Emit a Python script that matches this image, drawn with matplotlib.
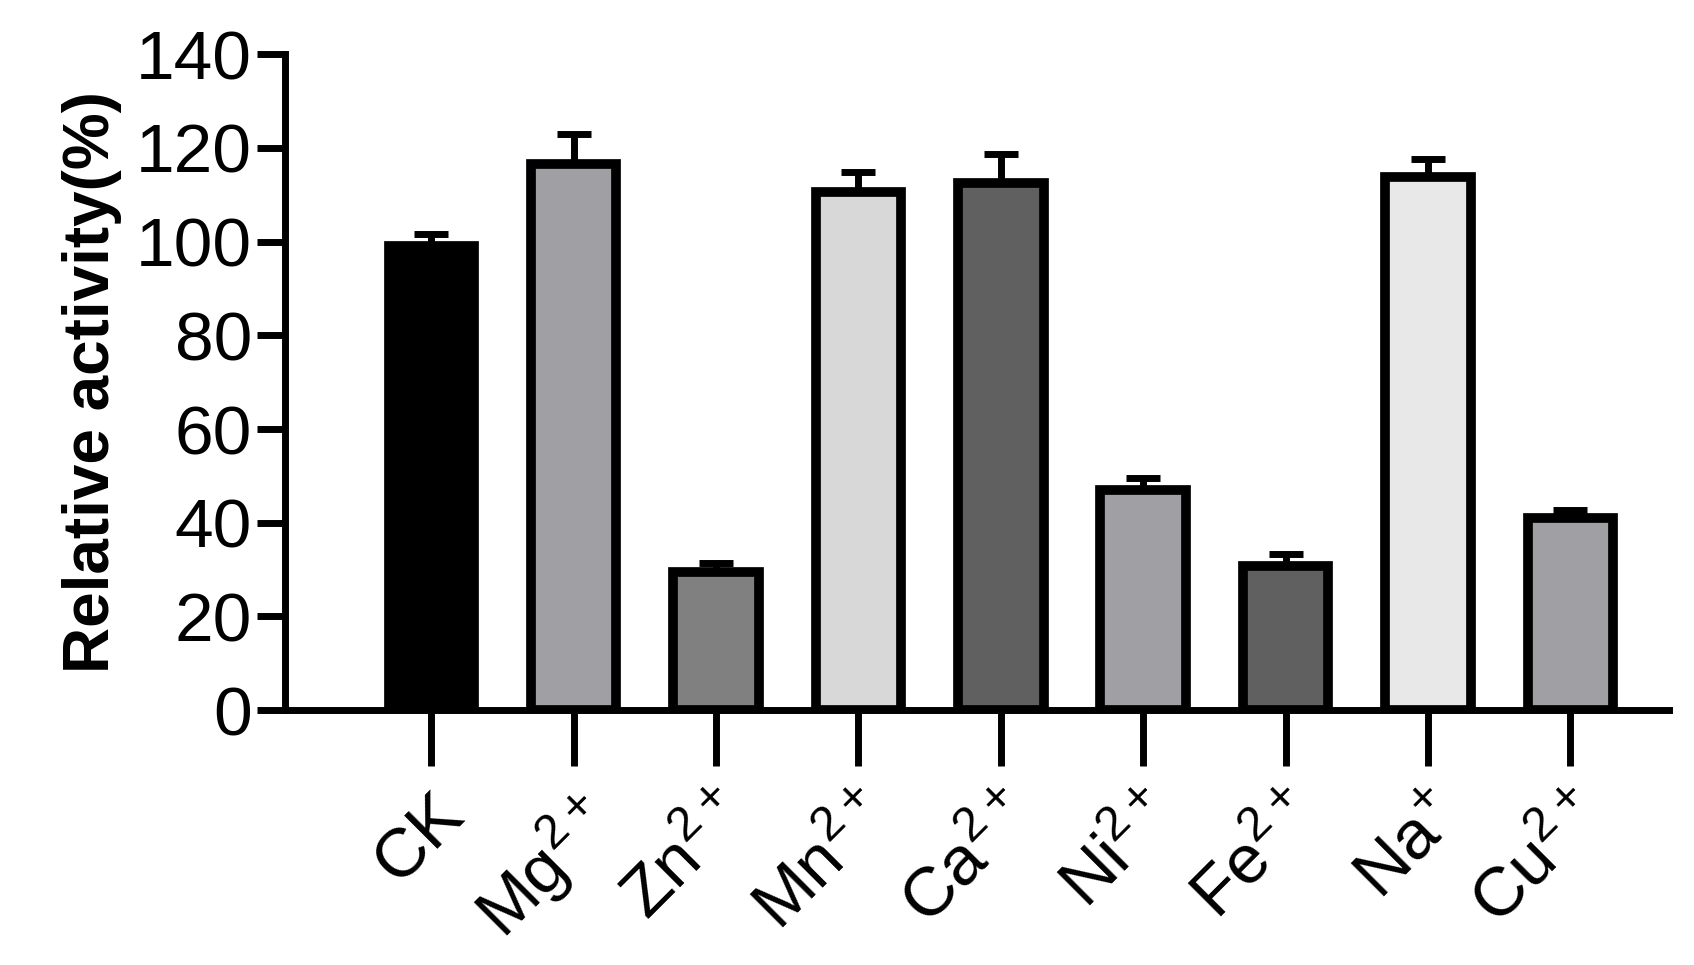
import matplotlib
matplotlib.use("Agg")
import matplotlib.pyplot as plt

plt.rcParams['font.family'] = ['Liberation Sans', 'DejaVu Sans']
plt.rcParams['mathtext.fontset'] = 'custom'
plt.rcParams['mathtext.rm'] = 'Liberation Sans'

categories = ["CK", "Mg$^{2+}$", "Zn$^{2+}$", "Mn$^{2+}$", "Ca$^{2+}$", "Ni$^{2+}$", "Fe$^{2+}$", "Na$^{+}$", "Cu$^{2+}$"]
values = [99, 116.5, 29.4, 110.6, 112.5, 47, 30.8, 113.7, 41]
errors = [2.5, 6.5, 2.1, 4.2, 6.2, 2.5, 2.5, 3.9, 1.8]
colors = ["#000000", "#a0a0a4", "#808080", "#d8d8d8", "#606060", "#a0a0a4", "#606060", "#e8e8e8", "#a0a0a4"]

fig = plt.figure(figsize=(16.94, 9.65), dpi=100)
ax = fig.add_axes([0.168, 0.264, 0.817, 0.68])
x = range(len(values))
ax.bar(x, values, width=0.6, color=colors, edgecolor="black", linewidth=7, zorder=3)
ax.errorbar(x, values, yerr=[[0]*len(errors), errors], fmt="none", ecolor="black",
            elinewidth=5, capsize=12, capthick=5, zorder=2)
ax.set_xlim(-1.03, 8.69)
ax.set_ylim(0, 140)
ax.set_yticks(range(0, 141, 20))
ax.set_xticks(list(x))
ax.set_xticklabels(categories, rotation=45, ha="right", rotation_mode="anchor", fontsize=50)
ax.tick_params(axis="y", labelsize=50, width=5, length=20)
ax.tick_params(axis="x", width=5, length=40, pad=12)
for s in ["top", "right"]:
    ax.spines[s].set_visible(False)
for s in ["left", "bottom"]:
    ax.spines[s].set_linewidth(5)
ax.set_ylabel("Relative activity(%)", fontsize=46, fontweight="bold", labelpad=10)
fig.savefig("out.png", dpi=100)
